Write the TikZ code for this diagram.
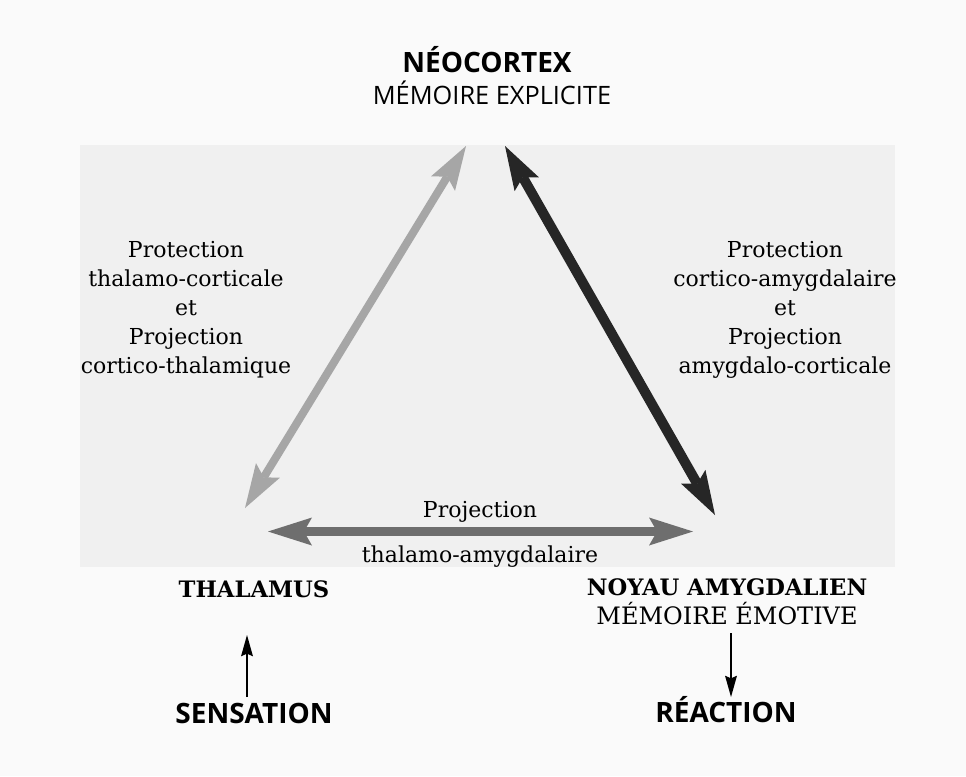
\documentclass[tikz,border=0pt]{standalone}
\usepackage{fontspec}
\setmainfont{DejaVu Serif}
\newfontfamily\headfont{Open Sans}
\usetikzlibrary{arrows.meta}
\tikzset{
    % Colors
    page color/.style={black!2},
    panel color/.style={black!6},
    thalamic color/.style={black!35},
    projection color/.style={black!57},
    cortical color/.style={black!85},
    %
    % Texts
    head label/.style={font=\headfont\bfseries\fontsize{21}{25}\selectfont},
    head sublabel/.style={font=\headfont\fontsize{19}{23}\selectfont},
    region label/.style={font=\bfseries\fontsize{17}{21}\selectfont},
    region sublabel/.style={font=\fontsize{18}{22}\selectfont},
    path label/.style={font=\fontsize{16.5}{21.75}\selectfont,align=center},
    %
    % Arrows
    big tip/.tip={Stealth[length=33pt,width=21pt,inset=6pt,line width=0pt]},
    small tip/.tip={Stealth[length=16pt,width=9pt,inset=2pt,line width=0pt]},
    darr/.style={<->,>={big tip},line width=#1},
    darr/.default=6pt,
    arr/.style={->,>={small tip},line width=1pt}
}

\begin{document}
\begin{tikzpicture}[x=0.75pt,y=-0.75pt,every node/.style={inner sep=0pt}]
    \useasboundingbox (0,0) rectangle (966,776);
    \fill[page color] (0,0) rectangle (966,776);
    \fill[panel color] (80,145) rectangle (895,567);

    % tips of the triangle
    \coordinate (neo left) at (466,146);
    \coordinate (neo right) at (505,146);
    \coordinate (thal tip) at (245,508);
    \coordinate (amyg tip) at (715,515);
    \coordinate (thal side) at (268,531.5);
    \coordinate (amyg side) at (693,531.5);

    \node[head label,anchor=base] (neo) at (487,72) {NÉOCORTEX};
    \node[head sublabel,anchor=base] (neo memory) at (492,104) {MÉMOIRE EXPLICITE};
    \node[region label,anchor=base] (thal) at (254,597) {THALAMUS};
    \node[region label,anchor=base] (amyg) at (727,595) {NOYAU AMYGDALIEN};
    \node[region sublabel,anchor=base] (amyg memory) at (727,624) {MÉMOIRE ÉMOTIVE};
    \node[head label,anchor=base] (sensation) at (254,723) {SENSATION};
    \node[head label,anchor=base] (reaction) at (726,722) {RÉACTION};

    \node[path label,anchor=base] (thal cortex) at (186,373) {Protection\\thalamo-corticale\\et\\Projection\\cortico-thalamique};
    \node[path label,anchor=base] (cortex amyg) at (785,373) {Protection\\cortico-amygdalaire\\et\\Projection\\amygdalo-corticale};
    \node[path label,anchor=base] (projection) at (480,517) {Projection};
    \node[path label,anchor=base] (thal amyg) at (480,562) {thalamo-amygdalaire};

    \draw[darr,thalamic color] (thal tip) -- (neo left);
    \draw[darr=7.5pt,cortical color] (neo right) -- (amyg tip);
    \draw[darr=6.75pt,projection color] (thal side) -- (amyg side);

    \coordinate (sens top) at (247,697);
    \coordinate (thal bottom) at (247,635);
    \coordinate (amyg bottom) at (731,633);
    \coordinate (react top) at (731,697);
    \draw[arr] (sens top) -- (thal bottom);
    \draw[arr] (amyg bottom) -- (react top);
\end{tikzpicture}
\end{document}
